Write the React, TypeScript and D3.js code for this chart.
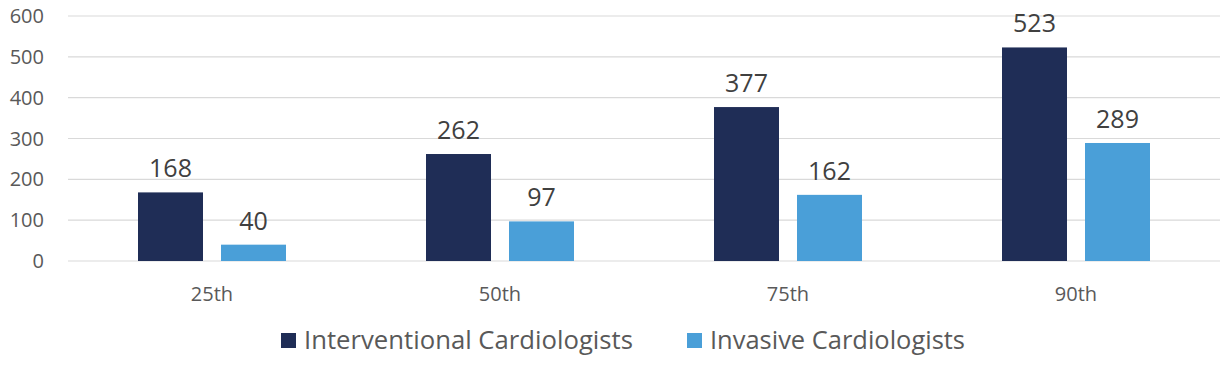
import React from "react";
import * as d3 from "d3";

const categories = ["25th", "50th", "75th", "90th"];
const seriesNames = ["Interventional Cardiologists", "Invasive Cardiologists"];
const interventional = [168, 262, 377, 523];
const invasive = [40, 97, 162, 289];
const yTicks = [0, 100, 200, 300, 400, 500, 600];
const colors = ["#1f2d56", "#4a9fd8"];

const W = 1230;
const H = 368;
const FONT = "'Open Sans', 'Noto Sans', sans-serif";

export default function App() {
  const left = 68;
  const right = 1220;
  const top = 16;
  const bottom = 261;

  const x0 = d3.scaleBand<string>().domain(categories).range([left, right]).padding(0);
  const y = d3.scaleLinear().domain([0, 600]).range([bottom, top]);
  const groupW = 148;
  const x1 = d3
    .scaleBand<string>()
    .domain(seriesNames)
    .range([0, groupW])
    .paddingInner(0.217);

  const seriesValues = [interventional, invasive];

  return (
    <svg
      width={W}
      height={H}
      style={{ position: "absolute", left: 0, top: 0, background: "#fff" }}
      fontFamily={FONT}
    >
      <rect x={0} y={0} width={W} height={H} fill="#fff" />
      {yTicks.map((t) => (
        <g key={t}>
          <line x1={left} x2={right} y1={y(t)} y2={y(t)} stroke="#d9d9d9" strokeWidth={1.2} />
          <text x={44} y={y(t)} dy="0.35em" textAnchor="end" fontSize={20} fill="#595959">
            {t}
          </text>
        </g>
      ))}
      {categories.map((c, i) => {
        const cx = (x0(c) as number) + x0.bandwidth() / 2;
        const gx = cx - groupW / 2;
        return (
          <g key={c}>
            {seriesNames.map((s, si) => {
              const v = seriesValues[si][i];
              const bx = gx + (x1(s) as number);
              return (
                <g key={s}>
                  <rect
                    x={bx}
                    y={y(v)}
                    width={x1.bandwidth()}
                    height={bottom - y(v)}
                    fill={colors[si]}
                  />
                  <text
                    x={bx + x1.bandwidth() / 2}
                    y={y(v) - 15}
                    textAnchor="middle"
                    fontSize={25}
                    fill="#404040"
                  >
                    {v}
                  </text>
                </g>
              );
            })}
            <text x={cx} y={301} textAnchor="middle" fontSize={20} fill="#595959">
              {c}
            </text>
          </g>
        );
      })}
      {seriesNames.map((s, si) => {
        const lx = si === 0 ? 281 : 687;
        const tl = si === 0 ? 329 : 255;
        return (
          <g key={s}>
            <rect x={lx} y={333} width={15} height={15} fill={colors[si]} />
            <text
              x={lx + 23}
              y={349}
              fontSize={25}
              fill="#595959"
              textLength={tl}
              lengthAdjust="spacingAndGlyphs"
            >
              {s}
            </text>
          </g>
        );
      })}
    </svg>
  );
}
